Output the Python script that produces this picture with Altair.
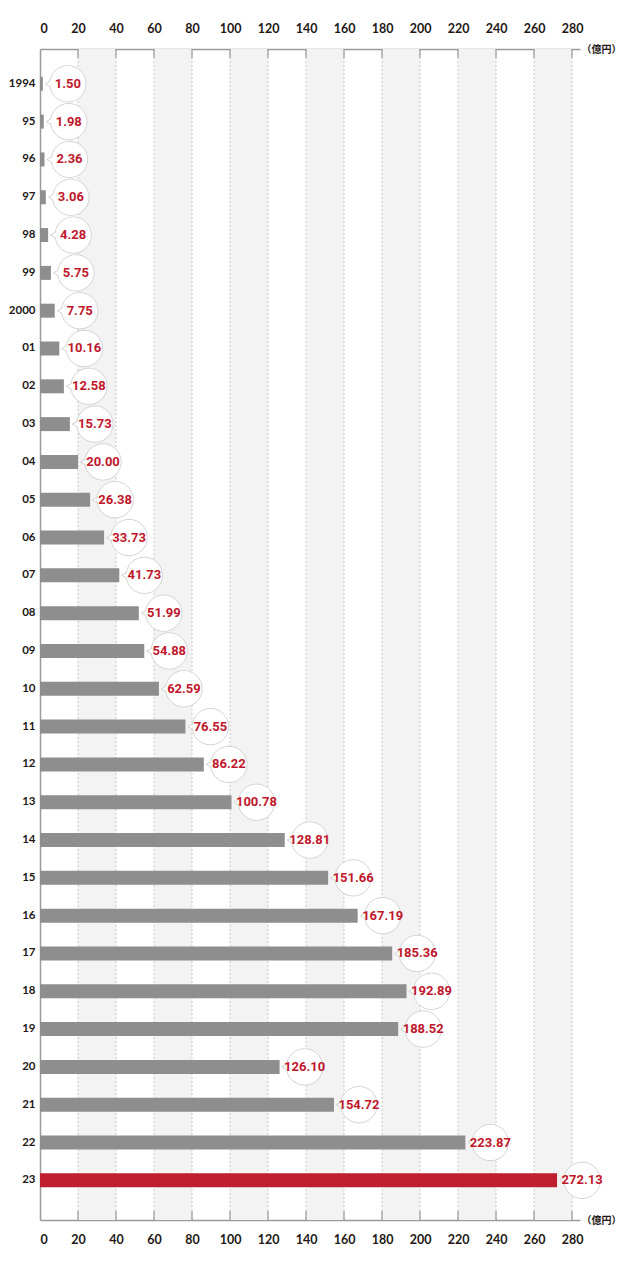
import math
import altair as alt
import pandas as pd

years = ["1994", "95", "96", "97", "98", "99", "2000", "01", "02", "03",
         "04", "05", "06", "07", "08", "09", "10", "11", "12", "13",
         "14", "15", "16", "17", "18", "19", "20", "21", "22", "23"]
values = [1.50, 1.98, 2.36, 3.06, 4.28, 5.75, 7.75, 10.16, 12.58, 15.73,
          20.00, 26.38, 33.73, 41.73, 51.99, 54.88, 62.59, 76.55, 86.22, 100.78,
          128.81, 151.66, 167.19, 185.36, 192.89, 188.52, 126.10, 154.72, 223.87, 272.13]
kinds = ["past"] * 29 + ["latest"]
tick_values = [0, 20, 40, 60, 80, 100, 120, 140, 160, 180, 200, 220, 240, 260, 280]
band_starts = [20, 60, 100, 140, 180, 220, 260]
band_ends = [40, 80, 120, 160, 200, 240, 280]
unit_label = "（億円）"

W, H = 540, 1171
DARK = "#231815"
AXIS_GRAY = "#9a9a9a"
LABEL_FONT = "Lato"
VALUE_FONT = "Roboto"

df = pd.DataFrame({"year": years, "value": values, "kind": kinds})
df["label"] = [f"{v:.2f}" for v in values]

ticks_df = pd.DataFrame({"t": tick_values[1:]})
bands_df = pd.DataFrame({"s": band_starts, "e": band_ends})

xscale = alt.Scale(domain=[0, 284.2], nice=False, zero=True)
yscale = alt.Scale(domain=years, paddingInner=0.63, paddingOuter=0.8, align=0.46)


def x_axis(orient, pad):
    return alt.Axis(
        orient=orient, values=tick_values, ticks=False, grid=False,
        domainColor=AXIS_GRAY, domainWidth=1.5,
        labelFont=LABEL_FONT, labelFontWeight="bold", labelFontSize=12.5,
        labelColor=DARK, labelPadding=pad, labelOverlap=False,
        title=unit_label, titleX=W + 1, titleY=0, titleAlign="left",
        titleBaseline="middle", titleAngle=0, titleFontSize=10,
        titleFontWeight="bold", titleColor=DARK, titleFont="Noto Sans CJK JP",
    )


bands = alt.Chart(bands_df).mark_rect(color="#f3f3f3").encode(
    x=alt.X("s:Q", scale=xscale, axis=x_axis("top", 14)),
    x2="e:Q",
    y=alt.value(0),
    y2=alt.value(H),
)

grid = alt.Chart(ticks_df).mark_rule(color="#c8c8c8", strokeDash=[2, 2], strokeWidth=1).encode(
    x=alt.X("t:Q", scale=xscale, axis=x_axis("bottom", 13)),
    y=alt.value(0),
    y2=alt.value(H),
)

ticks_top = alt.Chart(ticks_df).mark_rule(color="#8a8a8a", strokeWidth=1).encode(
    x=alt.X("t:Q", scale=xscale, axis=None),
    y=alt.value(0),
    y2=alt.value(9),
)
ticks_bottom = alt.Chart(ticks_df).mark_rule(color="#8a8a8a", strokeWidth=1).encode(
    x=alt.X("t:Q", scale=xscale, axis=None),
    y=alt.value(H - 9),
    y2=alt.value(H),
)

base = alt.Chart(df)

bars = base.mark_bar().encode(
    x=alt.X("value:Q", scale=xscale, axis=None),
    y=alt.Y("year:N", scale=yscale, sort=years, axis=alt.Axis(
        title=None, ticks=False, grid=False, domainColor=AXIS_GRAY, domainWidth=1.5,
        labelFont=LABEL_FONT, labelFontWeight="bold", labelFontSize=11.5,
        labelColor=DARK, labelPadding=5)),
    color=alt.Color("kind:N", scale=alt.Scale(domain=["past", "latest"],
                                              range=["#8e8e8e", "#be1e2d"]), legend=None),
)

pos = dict(
    x=alt.X("value:Q", scale=xscale, axis=None),
    y=alt.Y("year:N", scale=yscale, sort=years, axis=None),
)

R = 20.0
OFF = 25
outer = base.mark_point(shape="circle", size=math.pi * (R + 0.5) ** 2, filled=True,
                        fill="white", stroke="#d2d2d2", strokeWidth=1, opacity=1,
                        xOffset=OFF).encode(**pos)
tail = base.mark_point(shape="triangle-left", size=110, filled=True, fill="white",
                       stroke="#d2d2d2", strokeWidth=1, opacity=1,
                       xOffset=7).encode(**pos)
inner = base.mark_point(shape="circle", size=math.pi * (R - 0.3) ** 2, filled=True,
                        fill="white", strokeWidth=0, opacity=1,
                        xOffset=OFF).encode(**pos)
text = base.mark_text(font=VALUE_FONT, fontWeight="bold", fontSize=13,
                      color="#c0172b", xOffset=OFF, align="center",
                      baseline="middle").encode(text="label:N", **pos)

chart = alt.layer(
    bands, grid, ticks_top, ticks_bottom, bars, outer, tail, inner, text
).resolve_axis(x="independent", y="independent").properties(
    width=W, height=H,
    autosize=alt.AutoSizeParams(type="none"),
    padding={"left": 32, "top": 41, "right": 42, "bottom": 50},
).configure_view(stroke=None)

chart.save("out.html", embed_options={"renderer": "svg", "actions": False})
